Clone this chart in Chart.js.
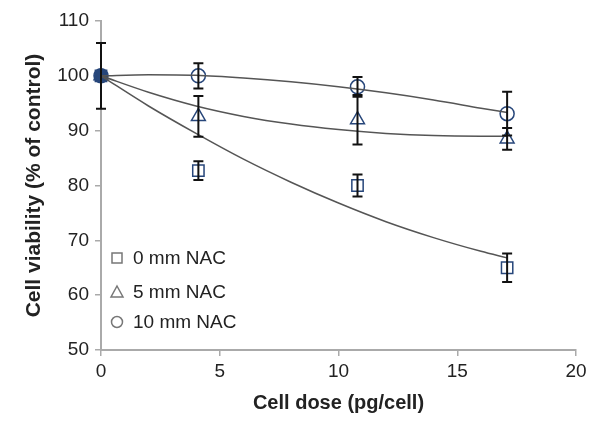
<!DOCTYPE html>
<html>
<head>
<meta charset="utf-8">
<script src="https://cdn.jsdelivr.net/npm/chart.js@4/dist/chart.umd.min.js"></script>
<style>
  html, body { margin: 0; padding: 0; background: #fff; }
  #wrap { width: 601px; height: 429px; }
</style>
</head>
<body>
<div id="wrap"><canvas id="viabilityChart"></canvas></div>
<script>
// measured points
const doses = [0, 4.1, 10.8, 17.1];
const nac0 = [100, 82.7, 80, 65];
const nac0Err = [6, 1.7, 2, 2.6];
const nac5 = [100, 92.6, 92, 88.5];
const nac5Err = [0, 3.7, 4.5, 2];
const nac10 = [100, 100, 98, 93.1];
const nac10Err = [0, 2.3, 1.8, 4];

// trend lines
const fitDoses = [0, 2, 4, 6, 8, 10, 12, 14, 16, 17.1];
const fit0 = [100, 94.5, 89.5, 84.8, 80.6, 76.8, 73.4, 70.5, 68.0, 66.8];
const fit5 = [100, 97.0, 94.5, 92.6, 91.2, 90.2, 89.5, 89.1, 89.0, 89.0];
const fit10 = [100, 100.2, 100.1, 99.6, 98.9, 98.0, 96.9, 95.6, 94.1, 93.3];

const yTicks = [50, 60, 70, 80, 90, 100, 110];
const xTicks = [0, 5, 10, 15, 20];
const legendLabels = ['0 mm NAC', '5 mm NAC', '10 mm NAC'];

const markColor = '#27467a';
const axisColor = '#aaaaaa';
const font = "'Liberation Sans', Arial, Helvetica, sans-serif";

function pts(xs, ys) {
    return xs.map((x, i) => ({ x: x, y: ys[i] }));
}

function fitLine(ys) {
    return {
        data: pts(fitDoses, ys),
        showLine: true,
        borderColor: '#555555',
        borderWidth: 1.5,
        pointRadius: 0,
        cubicInterpolationMode: 'monotone',
        fill: false
    };
}

function marks(ys, errs, style, r) {
    return {
        data: pts(doses, ys),
        errors: errs,
        pointStyle: style,
        pointRadius: r,
        pointBorderColor: markColor,
        // the three control points overlap at 0 and read as one filled blob
        pointBackgroundColor: ys.map((v, i) => i === 0 ? markColor : 'rgba(255,255,255,0)'),
        pointBorderWidth: 1.5,
        showLine: false,
        clip: false
    };
}

const errorBars = {
    id: 'errorBars',
    afterDatasetsDraw(chart) {
        const ctx = chart.ctx;
        const xs = chart.scales.x, ys = chart.scales.y;
        ctx.save();
        ctx.strokeStyle = '#111111';
        ctx.lineWidth = 2;
        chart.data.datasets.forEach(ds => {
            if (!ds.errors) return;
            ds.data.forEach((p, i) => {
                const e = ds.errors[i];
                if (!e) return;
                const px = xs.getPixelForValue(p.x);
                const top = ys.getPixelForValue(p.y + e);
                const bot = ys.getPixelForValue(p.y - e);
                ctx.beginPath();
                ctx.moveTo(px, top); ctx.lineTo(px, bot);
                ctx.moveTo(px - 5, top); ctx.lineTo(px + 5, top);
                ctx.moveTo(px - 5, bot); ctx.lineTo(px + 5, bot);
                ctx.stroke();
            });
        });
        ctx.restore();
    }
};

const innerLegend = {
    id: 'innerLegend',
    afterDraw(chart) {
        const ctx = chart.ctx;
        const area = chart.chartArea;
        const sx = area.left + 16;
        const tx = area.left + 32;
        const rows = [area.bottom - 92, area.bottom - 58, area.bottom - 28];
        ctx.save();
        ctx.strokeStyle = '#777777';
        ctx.lineWidth = 1.5;
        ctx.fillStyle = '#222222';
        ctx.font = '19px ' + font;
        ctx.textBaseline = 'middle';
        rows.forEach((y, i) => {
            ctx.beginPath();
            if (i === 0) {
                ctx.rect(sx - 5, y - 5, 10, 10);
            } else if (i === 1) {
                ctx.moveTo(sx, y - 6); ctx.lineTo(sx + 6, y + 5); ctx.lineTo(sx - 6, y + 5); ctx.closePath();
            } else {
                ctx.arc(sx, y, 5.5, 0, Math.PI * 2);
            }
            ctx.stroke();
            ctx.fillText(legendLabels[i], tx, y + 1);
        });
        ctx.restore();
    }
};

new Chart(document.getElementById('viabilityChart'), {
    type: 'scatter',
    data: {
        datasets: [
            fitLine(fit0), fitLine(fit5), fitLine(fit10),
            marks(nac0, nac0Err, 'rect', 8),
            marks(nac5, nac5Err, 'triangle', 8),
            marks(nac10, nac10Err, 'circle', 7)
        ]
    },
    options: {
        responsive: true,
        maintainAspectRatio: false,
        animation: false,
        layout: { padding: { top: 21, right: 25, left: 0, bottom: 0 } },
        plugins: {
            legend: { display: false },
            tooltip: { enabled: false }
        },
        scales: {
            x: {
                type: 'linear',
                min: 0, max: 20,
                afterFit(s) { s.height = 79; },
                afterBuildTicks(s) { s.ticks = xTicks.map(v => ({ value: v })); },
                border: { color: axisColor, width: 2 },
                grid: { drawOnChartArea: false, drawTicks: true, tickLength: 6, color: axisColor, lineWidth: 1.5 },
                ticks: { color: '#222', font: { family: font, size: 19 }, padding: 4 },
                title: {
                    display: true, text: 'Cell dose (pg/cell)', color: '#222',
                    font: { family: font, size: 20, weight: 'bold' },
                    padding: { top: 0, bottom: 14 }
                }
            },
            y: {
                type: 'linear',
                min: 50, max: 110,
                afterFit(s) { s.width = 101; },
                afterBuildTicks(s) { s.ticks = yTicks.map(v => ({ value: v })); },
                border: { color: axisColor, width: 2 },
                grid: { drawOnChartArea: false, drawTicks: true, tickLength: 6, color: axisColor, lineWidth: 1.5 },
                ticks: { color: '#222', font: { family: font, size: 19 }, padding: 6 },
                title: {
                    display: true, text: 'Cell viability (% of control)', color: '#222',
                    font: { family: font, size: 21, weight: 'bold' },
                    padding: { top: 22, bottom: 0 }
                }
            }
        }
    },
    plugins: [errorBars, innerLegend]
});
</script>
</body>
</html>
